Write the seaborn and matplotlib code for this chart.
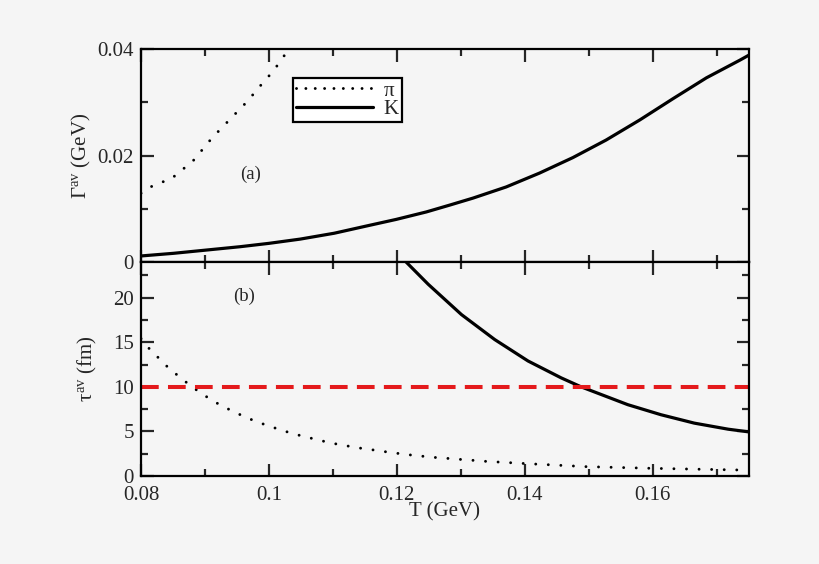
import numpy as np
import pandas as pd
import matplotlib
matplotlib.use('Agg')
import matplotlib.pyplot as plt
from matplotlib.ticker import MultipleLocator, FuncFormatter
import seaborn as sns

# ── DATA ──────────────────────────────────────────────────
# panel (a): average width Gamma^av (GeV)
T_pi_a = [0.0800, 0.0818, 0.0848, 0.0864, 0.0880, 0.0911, 0.0939, 0.0968,
          0.0980, 0.0993, 0.1007, 0.1030, 0.1035]
G_pi = [0.0129, 0.0143, 0.0157, 0.0173, 0.0188, 0.0233, 0.0268, 0.0304,
        0.0322, 0.0340, 0.0359, 0.0398, 0.0405]
T_K_a = [0.0800, 0.0851, 0.0903, 0.0955, 0.1000, 0.1049, 0.1102, 0.1154,
         0.1199, 0.1246, 0.1283, 0.1319, 0.1371, 0.1423, 0.1475, 0.1527,
         0.1580, 0.1632, 0.1684, 0.1736, 0.1751]
G_K = [0.00113, 0.00163, 0.00225, 0.00287, 0.0035, 0.0043, 0.0054, 0.0068,
       0.0080, 0.0094, 0.0107, 0.0120, 0.0141, 0.0167, 0.0196, 0.0229,
       0.0267, 0.0307, 0.0346, 0.0379, 0.0389]

# panel (b): average lifetime tau^av (fm)
T_pi_b = [0.0800, 0.0814, 0.0829, 0.0843, 0.0859, 0.0874, 0.0891, 0.0908,
          0.0925, 0.0943, 0.0962, 0.0980, 0.0999, 0.1018, 0.1037, 0.1057,
          0.1077, 0.1096, 0.1116, 0.1136, 0.1156, 0.1176, 0.1196, 0.1216,
          0.1236, 0.1256, 0.1277, 0.1296, 0.1317, 0.1338, 0.1400, 0.1496,
          0.1600, 0.1740, 0.1750]
tau_pi = [15.4, 14.18, 13.13, 12.12, 11.18, 10.32, 9.42, 8.63,
          7.91, 7.28, 6.64, 6.11, 5.63, 5.18, 4.76, 4.39,
          4.05, 3.71, 3.46, 3.19, 3.00, 2.78, 2.59, 2.40,
          2.25, 2.10, 1.99, 1.88, 1.77, 1.65, 1.40, 1.05,
          0.86, 0.67, 0.66]
T_K_b = [0.1213, 0.1249, 0.1301, 0.1353, 0.1405, 0.1457, 0.1488, 0.1561,
         0.1613, 0.1665, 0.1718, 0.1750]
tau_K = [24.1, 21.5, 18.1, 15.3, 12.9, 11.0, 10.0, 8.0,
         6.87, 5.93, 5.25, 4.95]
tau_ref = 10

# ── STYLE ────────────────────────────────────────────────
BG = '#f5f5f5'
RED = '#e41a1c'
sns.set_style('ticks')
plt.rcParams['font.family'] = ['Liberation Serif', 'DejaVu Serif']
plt.rcParams['mathtext.fontset'] = 'custom'
plt.rcParams['mathtext.rm'] = 'Liberation Serif'
plt.rcParams['mathtext.it'] = 'Liberation Serif'
plt.rcParams['mathtext.bf'] = 'Liberation Serif:bold'
plt.rcParams['axes.linewidth'] = 1.6
FS = 15

fig = plt.figure(figsize=(8.2, 5.64), dpi=100)
fig.patch.set_facecolor(BG)
ax1 = fig.add_axes([0.172, 0.5355, 0.741, 0.3775])
ax2 = fig.add_axes([0.172, 0.156, 0.741, 0.3795], sharex=ax1)

DOT = (0, (0.01, 4.3))
LW_DOT = 2.1
LW_K = 2.3

df_pi_a = pd.DataFrame({'T': T_pi_a, 'v': G_pi})
df_K_a = pd.DataFrame({'T': T_K_a, 'v': G_K})
sns.lineplot(data=df_pi_a, x='T', y='v', ax=ax1, color='black', lw=LW_DOT, label='π')
sns.lineplot(data=df_K_a, x='T', y='v', ax=ax1, color='black', lw=LW_K, label='K')

df_pi_b = pd.DataFrame({'T': T_pi_b, 'v': tau_pi})
df_K_b = pd.DataFrame({'T': T_K_b, 'v': tau_K})
sns.lineplot(data=df_pi_b, x='T', y='v', ax=ax2, color='black', lw=LW_DOT, legend=False)
sns.lineplot(data=df_K_b, x='T', y='v', ax=ax2, color='black', lw=LW_K, legend=False)
ax2.axhline(tau_ref, color=RED, lw=2.9, linestyle=(0, (4.4, 2.3)))

# pion curves dotted
for ax in (ax1, ax2):
    ln = ax.lines[0]
    ln.set_linestyle(DOT)
    ln.set_dash_capstyle('round')

for ax in (ax1, ax2):
    ax.set_facecolor(BG)
    ax.tick_params(which='both', direction='in', top=True, right=True,
                   labelsize=FS, width=1.6, pad=5)
    ax.tick_params(which='major', length=9)
    ax.tick_params(which='minor', length=5)
    ax.xaxis.set_major_locator(MultipleLocator(0.02))
    ax.xaxis.set_minor_locator(MultipleLocator(0.01))
    for s in ax.spines.values():
        s.set_visible(True)
        s.set_color('black')

ax1.set_xlim(0.08, 0.175)
ax1.set_ylim(0, 0.04)
ax1.yaxis.set_major_locator(MultipleLocator(0.02))
ax1.yaxis.set_minor_locator(MultipleLocator(0.01))
ax1.yaxis.set_major_formatter(FuncFormatter(lambda v, p: f'{v:g}'))
ax1.tick_params(labelbottom=False)
ax1.set_xlabel('')
ax1.set_ylabel(r'$\Gamma^{av}$ (GeV)', fontsize=FS, labelpad=3)

ax2.set_ylim(0, 24)
ax2.yaxis.set_major_locator(MultipleLocator(5))
ax2.yaxis.set_minor_locator(MultipleLocator(2.5))
ax2.xaxis.set_major_formatter(FuncFormatter(lambda v, p: f'{v:g}'))
ax2.tick_params(axis='x', pad=7)
ax2.set_xlabel('T (GeV)', fontsize=FS, labelpad=-2)
ax2.set_ylabel(r'$\tau^{av}$ (fm)', fontsize=FS, labelpad=10)

ax1.text(0.18, 0.41, '(a)', transform=ax1.transAxes, fontsize=FS - 1.5, ha='center', va='center')
ax2.text(0.17, 0.84, '(b)', transform=ax2.transAxes, fontsize=FS - 1.5, ha='center', va='center')

leg = ax1.legend(loc='upper left', bbox_to_anchor=(0.25, 0.865), fontsize=FS,
                 frameon=True, fancybox=False, handlelength=3.7, handletextpad=0.5,
                 borderpad=0.15, labelspacing=-0.05, borderaxespad=0)
leg.get_frame().set_edgecolor('black')
leg.get_frame().set_linewidth(1.6)
leg.get_frame().set_facecolor('white')
leg.get_frame().set_alpha(1)
leg_lines = leg.get_lines()
leg_lines[0].set_linestyle((0, (0.01, 3.2)))
leg_lines[0].set_dash_capstyle('round')

fig.savefig('out.png', dpi=100, facecolor=BG)
